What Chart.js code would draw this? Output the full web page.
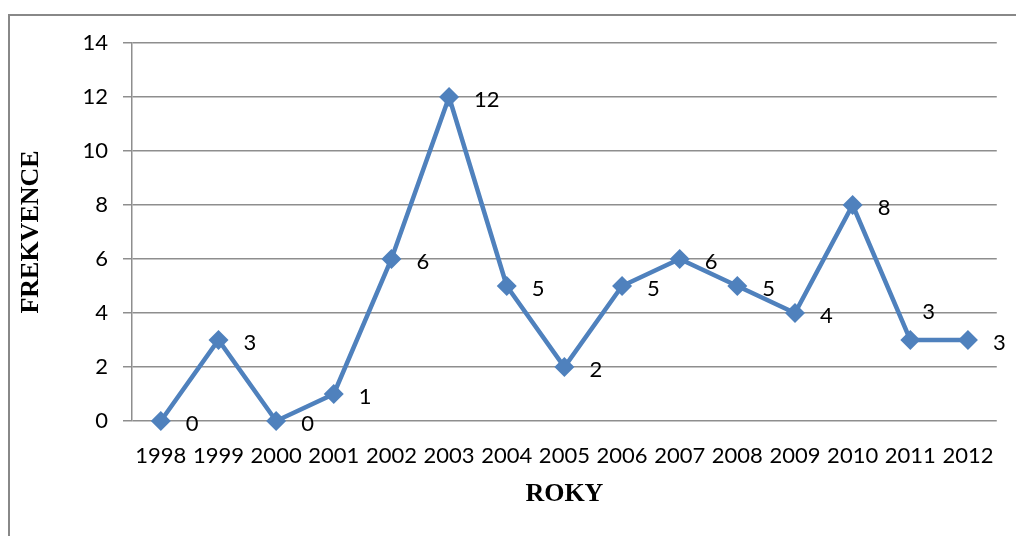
<!DOCTYPE html>
<html>
<head>
<meta charset="utf-8">
<script src="https://cdn.jsdelivr.net/npm/chart.js@4"></script>
<style>
  body { margin: 0; background: #fff; overflow: hidden; }
  #frame { position: absolute; left: 8px; top: 14px; width: 1030px; height: 560px; border: 2px solid #888; }
  #c { position: absolute; left: 0; top: 0; }
</style>
</head>
<body>
<div id="frame"></div>
<canvas id="c" width="1016" height="536"></canvas>
<script>
const years = ["1998","1999","2000","2001","2002","2003","2004","2005","2006","2007","2008","2009","2010","2011","2012"];
const counts = [0, 3, 0, 1, 6, 12, 5, 2, 5, 6, 5, 4, 8, 3, 3];
const yTicks = [0, 2, 4, 6, 8, 10, 12, 14];

const tickFont = { family: "Lato", size: 22 };
const titleFont = { family: "Liberation Serif", size: 26, weight: "bold" };
const gridColor = "#8e8e8e";

// value labels to the right of each point
const valueLabels = {
  id: "valueLabels",
  afterDatasetsDraw(chart) {
    const ctx = chart.ctx;
    const meta = chart.getDatasetMeta(0);
    ctx.save();
    ctx.font = tickFont.size + "px " + tickFont.family;
    ctx.fillStyle = "#000";
    ctx.textAlign = "left";
    ctx.textBaseline = "middle";
    meta.data.forEach((pt, i) => {
      let dx = 25, dy = 3;
      if (i === 13) { dx = 12; dy = -28; } // 2011 label sits above
      ctx.fillText(String(counts[i]), pt.x + dx, pt.y + dy);
    });
    ctx.restore();
  }
};

new Chart(document.getElementById("c"), {
  type: "line",
  data: {
    labels: years,
    datasets: [{
      data: counts,
      borderColor: "#4f81bd",
      backgroundColor: "#4f81bd",
      borderWidth: 4.5,
      pointStyle: "rectRot",
      pointRadius: 10,
      pointBorderWidth: 0,
      tension: 0,
      clip: false
    }]
  },
  options: {
    responsive: false,
    animation: false,
    layout: { padding: { top: 43, right: 16, left: 0, bottom: 0 } },
    plugins: { legend: { display: false }, tooltip: { enabled: false } },
    scales: {
      x: {
        offset: true,
        grid: { display: false, drawTicks: false },
        border: { display: false },
        ticks: { font: tickFont, color: "#000", padding: 22, maxRotation: 0, autoSkip: false },
        title: { display: true, text: "ROKY", font: titleFont, color: "#000", padding: { top: 0, bottom: 26 } },
        afterFit: s => { s.height = 115; }
      },
      y: {
        min: 0,
        max: 14,
        afterBuildTicks: s => { s.ticks = yTicks.map(v => ({ value: v })); },
        grid: { color: gridColor, lineWidth: 1.5, tickLength: 9 },
        border: { color: gridColor, width: 1.5 },
        ticks: { font: tickFont, color: "#000", padding: 15 },
        title: { display: true, text: "FREKVENCE", font: titleFont, color: "#000", padding: { top: 16, bottom: 0 } },
        afterFit: s => { s.width = 132; }
      }
    }
  },
  plugins: [valueLabels]
});
</script>
</body>
</html>
